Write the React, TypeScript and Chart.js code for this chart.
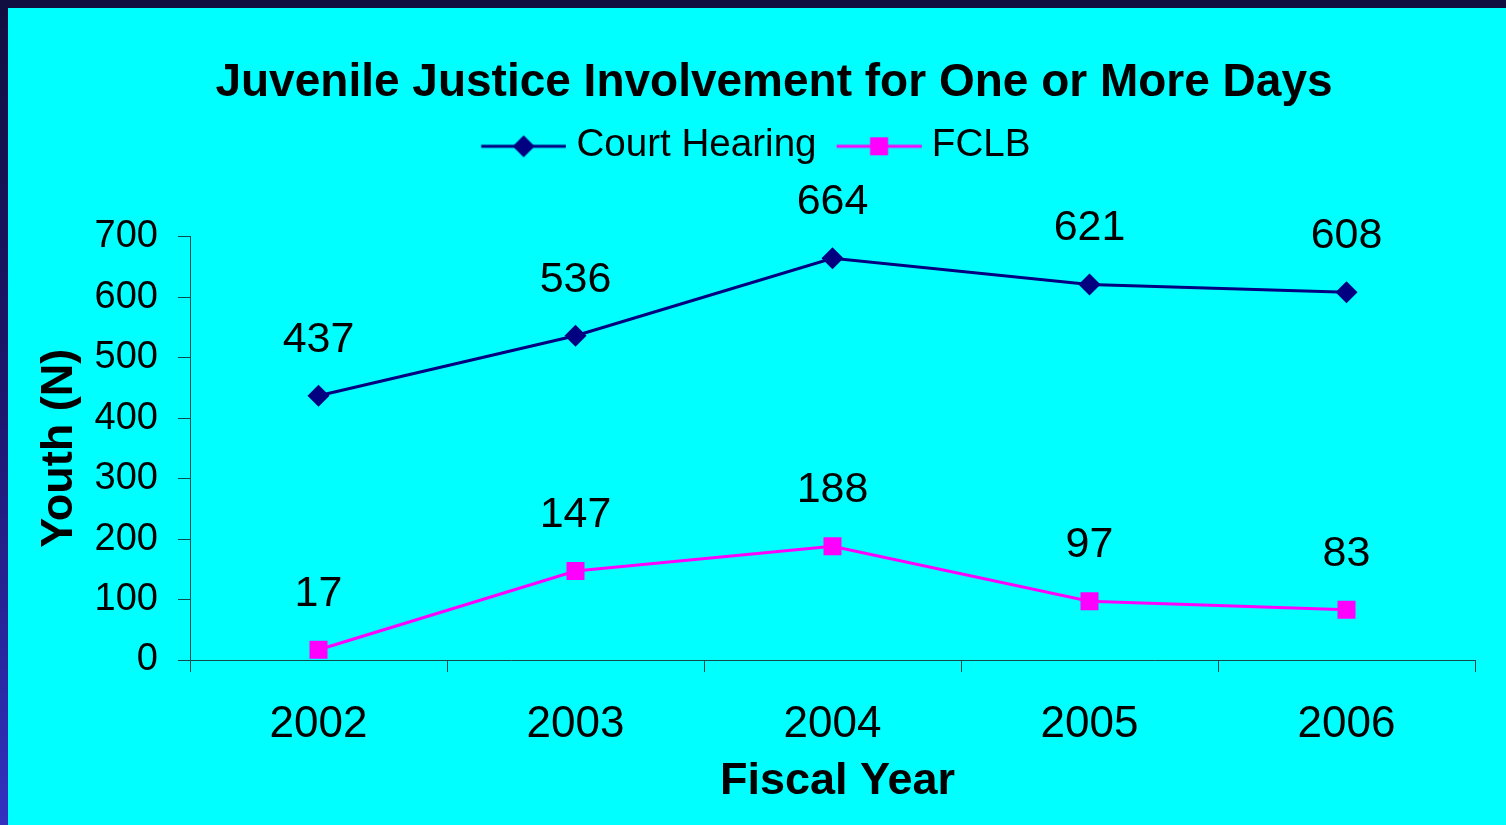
import { useEffect, useRef } from 'react';
import { Chart, registerables } from 'chart.js';

Chart.register(...registerables);

const chartTitle = 'Juvenile Justice Involvement for One or More Days';
const categories = ['2002', '2003', '2004', '2005', '2006'];
const courtHearing = [437, 536, 664, 621, 608];
const fclb = [17, 147, 188, 97, 83];
const seriesNames = ['Court Hearing', 'FCLB'];
const yMin = 0;
const yMax = 700;
const yStep = 100;
const xTitle = 'Fiscal Year';
const yTitle = 'Youth (N)';

const FONT = "'Liberation Sans', Arial, Helvetica, sans-serif";
const NAVY = '#000080';
const MAGENTA = '#ff00ff';
const CYAN = '#00ffff';
const AXIS = '#0d4a4a';

function makeLegendImage(color: string, style: 'diamond' | 'square') {
  const c = document.createElement('canvas');
  c.width = 92;
  c.height = 38;
  const g = c.getContext('2d')!;
  const y = 20;
  const x0 = 6.8;
  const x1 = 91.8;
  g.strokeStyle = color;
  g.lineWidth = 3;
  g.beginPath();
  g.moveTo(x0, y);
  g.lineTo(x1, y);
  g.stroke();
  const cx = (x0 + x1) / 2;
  g.fillStyle = color;
  if (style === 'diamond') {
    g.beginPath();
    g.moveTo(cx - 11, y);
    g.lineTo(cx, y - 11);
    g.lineTo(cx + 11, y);
    g.lineTo(cx, y + 11);
    g.closePath();
    g.fill();
  } else {
    g.fillRect(cx - 9, y - 9, 18, 18);
  }
  return c;
}

const valueLabels = {
  id: 'valueLabels',
  afterDatasetsDraw(chart: any) {
    const ctx = chart.ctx;
    ctx.save();
    ctx.font = `43px ${FONT}`;
    ctx.fillStyle = '#000';
    ctx.textAlign = 'center';
    ctx.textBaseline = 'middle';
    chart.data.datasets.forEach((ds: any, i: number) => {
      const meta = chart.getDatasetMeta(i);
      meta.data.forEach((pt: any, j: number) => {
        ctx.fillText(String(ds.data[j]), pt.x, pt.y - 56);
      });
    });
    ctx.restore();
  },
};

const titleShift = {
  id: 'titleShift',
  afterLayout(chart: any) {
    const t = chart.titleBlock;
    if (t) t.left += 34;
    const sx = chart.scales && chart.scales.x;
    if (sx && !sx.__shifted) {
      const orig = sx.drawTitle.bind(sx);
      sx.drawTitle = () => {
        chart.ctx.save();
        chart.ctx.translate(5, 0);
        orig();
        chart.ctx.restore();
      };
      sx.__shifted = true;
    }
  },
};

export default function App() {
  const ref = useRef<HTMLCanvasElement | null>(null);

  useEffect(() => {
    if (!ref.current) return;
    const legendImages = [makeLegendImage(NAVY, 'diamond'), makeLegendImage(MAGENTA, 'square')];
    const chart = new Chart(ref.current, {
      type: 'line',
      data: {
        labels: categories,
        datasets: [
          {
            label: seriesNames[0],
            data: courtHearing,
            borderColor: NAVY,
            backgroundColor: NAVY,
            borderWidth: 3,
            pointStyle: 'rectRot',
            pointRadius: 11,
            pointBorderWidth: 0,
            pointBackgroundColor: NAVY,
            tension: 0,
            yAxisID: 'y',
          },
          {
            label: seriesNames[1],
            data: fclb,
            borderColor: MAGENTA,
            backgroundColor: MAGENTA,
            borderWidth: 3,
            pointStyle: 'rect',
            pointRadius: 12.73,
            pointBorderWidth: 0,
            pointBackgroundColor: MAGENTA,
            tension: 0,
            yAxisID: 'y',
          },
        ],
      },
      options: {
        responsive: false,
        animation: false,
        devicePixelRatio: 1,
        layout: { padding: 0 },
        events: [],
        plugins: {
          tooltip: { enabled: false },
          title: {
            display: true,
            text: chartTitle,
            color: '#000',
            font: { family: FONT, size: 46, weight: 'bold', lineHeight: 0.8 },
            padding: { top: 56.6, bottom: 2.2 },
          },
          legend: {
            display: true,
            position: 'top',
            labels: {
              usePointStyle: true,
              pointStyleWidth: 73.6,
              padding: 22.4,
              color: '#000',
              font: { family: FONT, size: 38.6 },
              generateLabels: (c: any) =>
                c.data.datasets.map((ds: any, i: number) => ({
                  text: ds.label,
                  pointStyle: legendImages[i],
                  fillStyle: ds.borderColor,
                  strokeStyle: ds.borderColor,
                  lineWidth: 1,
                  hidden: false,
                  datasetIndex: i,
                  fontColor: '#000',
                })),
            },
          },
          subtitle: {
            display: true,
            text: '',
            weight: 500,
            font: { family: FONT, size: 10, lineHeight: 1 },
            padding: { top: 52, bottom: 0 },
          },
        } as any,
        scales: {
          x: {
            type: 'category',
            offset: true,
            grid: {
              offset: true,
              drawOnChartArea: false,
              drawTicks: true,
              tickLength: 12,
              color: AXIS,
              lineWidth: 1,
            },
            border: { display: true, color: AXIS, width: 1 },
            ticks: {
              color: '#000',
              font: { family: FONT, size: 44 },
              padding: 26,
              maxRotation: 0,
              autoSkip: false,
            },
            title: {
              display: true,
              text: xTitle,
              color: '#000',
              font: { family: FONT, size: 45, weight: 'bold' },
              padding: { top: 0, bottom: 16 },
            },
            afterFit: (s: any) => {
              s.height = 165;
            },
          },
          y: {
            type: 'linear',
            position: 'left',
            min: yMin,
            max: yMax,
            grid: {
              drawOnChartArea: false,
              drawTicks: true,
              tickLength: 12,
              color: AXIS,
              lineWidth: 1,
            },
            border: { display: true, color: AXIS, width: 1 },
            ticks: {
              stepSize: yStep,
              color: '#000',
              font: { family: FONT, size: 38 },
              padding: 20,
            },
            title: {
              display: true,
              text: yTitle,
              color: '#000',
              font: { family: FONT, size: 45, weight: 'bold' },
              padding: { top: 24.5, bottom: 0 },
            },
            afterFit: (s: any) => {
              s.width = 182;
            },
          },
          yRight: {
            type: 'linear',
            position: 'right',
            display: true,
            grid: { display: false },
            border: { display: false },
            ticks: { display: false },
            afterFit: (s: any) => {
              s.width = 31;
            },
          },
        } as any,
      },
      plugins: [valueLabels, titleShift],
    } as any);
    return () => chart.destroy();
  }, []);

  return (
    <div
      style={{
        position: 'fixed',
        left: 0,
        top: 0,
        width: 1506,
        height: 825,
        overflow: 'hidden',
        background: 'linear-gradient(to bottom, #110f40 0%, #1c1870 50%, #3232c0 100%)',
      }}
    >
      <div style={{ position: 'absolute', left: 0, top: 0, width: 1506, height: 8, background: '#110f40' }} />
      <canvas
        ref={ref}
        width={1498}
        height={817}
        style={{ position: 'absolute', left: 8, top: 8, width: 1498, height: 817, background: CYAN, display: 'block' }}
      />
    </div>
  );
}
